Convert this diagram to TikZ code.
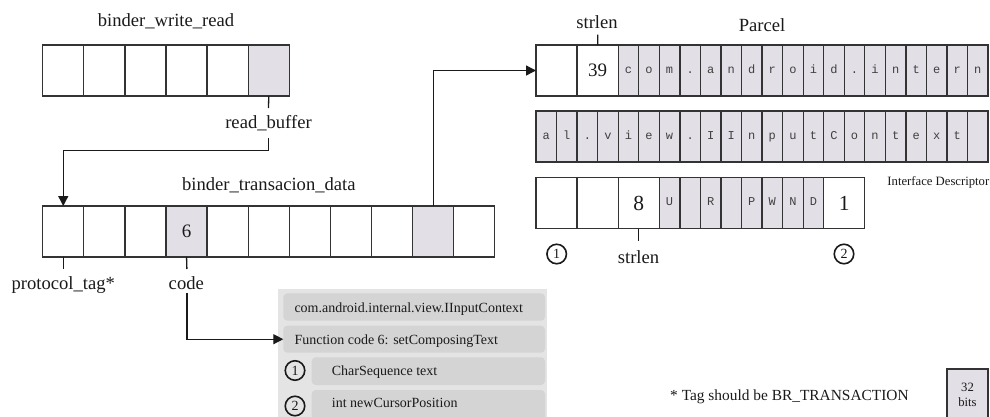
\documentclass[tikz,border=0pt]{standalone}
\usepackage{fontspec}
\setmainfont{Liberation Serif}
\newfontfamily\charfont{Liberation Mono}
\usetikzlibrary{arrows.meta}

\definecolor{cellline}{HTML}{333333}
\definecolor{cellshade}{HTML}{E2DFE6}
\definecolor{panelbg}{HTML}{E4E4E4}
\definecolor{panelrow}{HTML}{D4D4D4}
\definecolor{ink}{HTML}{1A1A1A}

\tikzset{
  cell/.style={draw=cellline, line width=1.3pt, minimum width=41.1pt,
    minimum height=51pt, inner sep=0pt, outer sep=0pt, anchor=north west,
    text=ink, font=\fontsize{19}{20}\selectfont},
  bigcell/.style={cell, font=\fontsize{21.5}{22}\selectfont},
  shaded/.style={fill=cellshade},
  halfcell/.style={cell, minimum width=20.55pt, fill=cellshade,
    font=\charfont\fontsize{12}{12}\selectfont, text=black!75,
    text height=7pt, text depth=2pt},
  lbl/.style={font=\fontsize{18.6}{20}\selectfont, text=ink, inner sep=0pt, anchor=base},
  link/.style={draw=ink, line width=1.3pt},
  arrow/.style={link, -{Triangle[length=10pt,width=10pt]}},
  circnum/.style={draw=ink, line width=1.6pt, circle, minimum size=19.5pt,
    inner sep=0pt, font=\fontsize{14}{14}\selectfont, text=ink},
  panel/.style={fill=panelbg, draw=none, anchor=north west, inner sep=0pt, outer sep=0pt},
  panelrowbox/.style={fill=panelrow, draw=none, rounded corners=4pt, anchor=north west,
    inner sep=0pt, outer sep=0pt},
  paneltext/.style={font=\fontsize{14}{16}\selectfont, text=ink, inner sep=0pt, anchor=base west},
}

\begin{document}
\begin{tikzpicture}[x=1pt,y=-1pt]
\useasboundingbox (0,0) rectangle (990,416);

% ---------- binder_write_read ----------
\node[lbl] (bwr-title) at (166,26.5) {binder\_write\_read};
\foreach \i in {1,...,5}
  \node[cell] (bw-\i) at ({42.7+(\i-1)*41.1},45) {};
\node[cell,shaded] (bw-6) at ({42.7+5*41.1},45) {};

\node[lbl] (rb) at (268.5,128.3) {read\_buffer};
\coordinate (rb-tick) at (268.5,108);
\coordinate (rb-out) at (268.5,138);
\coordinate (rb-turn) at (268.5,150.7);

% ---------- binder_transacion_data ----------
\node[lbl] (td-title) at (268.8,190) {binder\_transacion\_data};
\foreach \i in {1,2,3,5,6,7,8,9,11}
  \node[cell] (td-\i) at ({42.7+(\i-1)*41.1},206) {};
\node[cell,shaded] (td-4) at ({42.7+3*41.1},206) {6};
\node[cell,shaded] (td-10) at ({42.7+9*41.1},206) {};

\node[lbl] (ptag) at (63.3,289) {protocol\_tag*};
\node[lbl] (code) at (186.3,289) {code};
\coordinate (ptag-tick) at (63.25,269);
\coordinate (code-tick) at (186.9,269);
\coordinate (code-out) at (186.9,293);

% ---------- Parcel ----------
\node[lbl] (parcel-title) at (762,31.5) {Parcel};
\node[lbl] (strlen-top) at (597,28) {strlen};
\coordinate (sl-tick) at (597.65,34.5);

% first row
\node[cell] (pa-1) at (536,45) {};
\node[cell] (pa-2) at (577.1,45) {39};
\foreach \c [count=\i from 3] in {c,o,m,.,a,n,d,r,o,i,d,.,i,n,t,e,r,n}
  \node[halfcell] (pa-\i) at ({618.2+(\i-3)*20.55},45) {\c};

% second row
\foreach \c [count=\i] in {a,l,.,v,i,e,w,.,I,I,n,p,u,t,C,o,n,t,e,x,t}
  \node[halfcell] (pb-\i) at ({536+(\i-1)*20.55},111) {\c};
\node[halfcell] (pb-22) at ({536+21*20.55},111) {};

\node[font=\fontsize{12.7}{13}\selectfont, text=ink, inner sep=0pt, anchor=base east]
  (iface) at (989.5,185.5) {Interface Descriptor};

% third row
\node[cell] (pc-1) at (536,177.7) {};
\node[cell] (pc-2) at (577.1,177.7) {};
\node[bigcell] (pc-3) at (618.2,177.7) {8};
\foreach \c [count=\i from 4] in {U,{},R,{},P,W,N,D}
  \node[halfcell] (pc-\i) at ({659.3+(\i-4)*20.55},177.7) {\c};
\node[bigcell] (pc-12) at (823.7,177.7) {1};

\node[circnum] (arg-1) at (556.7,254) {1};
\node[circnum] (arg-2) at (844,254) {2};
\node[lbl] (strlen-bot) at (638.5,263) {strlen};
\coordinate (sl2-tick) at (638.75,241);

% ---------- interface method panel ----------
\node[panel, minimum width=269pt, minimum height=130pt] (fnbg) at (277.7,289.3) {};
\node[panelrowbox, minimum width=261.7pt, minimum height=27.4pt] (fn1) at (283.3,293.3) {};
\node[panelrowbox, minimum width=261.7pt, minimum height=27pt] (fn2) at (283.3,325.7) {};
\node[panelrowbox, minimum width=233.3pt, minimum height=27.7pt] (fn3) at (311.7,357.3) {};
\node[panelrowbox, minimum width=233.3pt, minimum height=30pt] (fn4) at (311.7,390) {};

\node[paneltext] (fn1-t) at (294.3,312) {com.android.internal.view.IInputContext};
\node[paneltext] (fn2-t) at (294.3,344.5) {Function code 6: setComposingText};
\node[paneltext] (fn3-t) at (331.7,375) {CharSequence text};
\node[paneltext] (fn4-t) at (331.7,407) {int newCursorPosition};
\node[circnum] (fn-arg-1) at (295,370.5) {1};
\node[circnum] (fn-arg-2) at (295,406) {2};

% ---------- footnote and legend ----------
\node[font=\fontsize{15.4}{16}\selectfont, text=ink, inner sep=0pt, anchor=base west]
  (tagnote) at (670,400) {* Tag should be BR\_TRANSACTION};
\node[cell, shaded, minimum height=52pt] (legend) at (947,369) {};
\node[align=center, font=\fontsize{12.7}{15}\selectfont, text=ink, inner sep=0pt]
  (legend-t) at (967.5,394.7) {32\\bits};

% ---------- connectors ----------
\draw[link] (bw-6.south) -- (rb-tick);
\draw[arrow] (rb-out) -- (rb-turn) -| (td-1.north);
\draw[link] (td-1.south) -- (ptag-tick);
\draw[link] (td-4.south) -- (code-tick);
\draw[arrow] (code-out) |- (fn2.west);
\draw[arrow] (td-10.north) |- (pa-1.west);
\draw[link] (sl-tick) -- (pa-2.north);
\draw[link] (pc-3.south) -- (sl2-tick);

\end{tikzpicture}
\end{document}
